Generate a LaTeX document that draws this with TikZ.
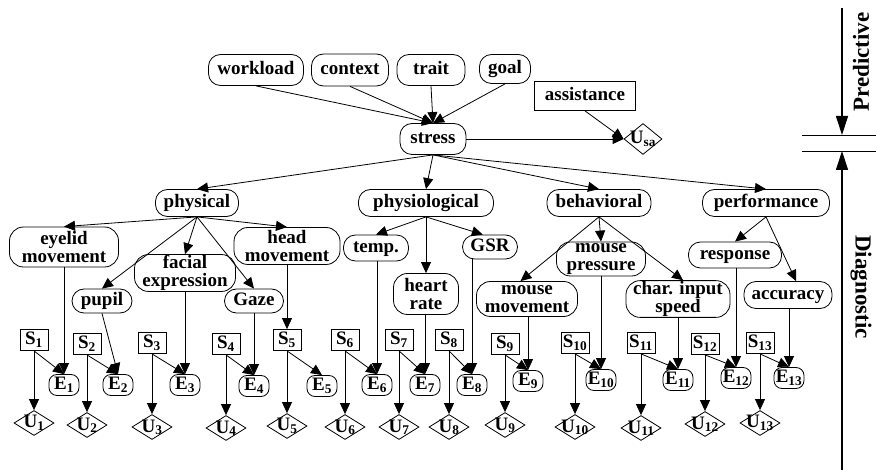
\documentclass[tikz,border=0pt]{standalone}
\usepackage{fontspec}
\setmainfont{Liberation Serif}
\usetikzlibrary{arrows.meta,shapes.geometric}
\newcommand\diagfont{\bfseries\fontsize{19}{17.5}\selectfont}
\newcommand\sidefont{\bfseries\fontsize{23}{26}\selectfont}
\newcommand\subidx[1]{\textsubscript{#1}}
\begin{document}
\begin{tikzpicture}[x=1pt,y=-1pt,line width=0.8pt,font=\diagfont,
  wh/.style 2 args={minimum width=#1pt,minimum height=#2pt},
  rn/.style={draw,rounded corners=12pt,align=center,inner sep=1pt},
  one/.style={text height=12pt,text depth=2pt},
  sbox/.style={draw,rectangle,inner sep=1pt,minimum width=28pt,minimum height=21pt,text height=12pt,text depth=3pt},
  ebox/.style={draw,rounded corners=8pt,inner sep=1pt,minimum width=30pt,minimum height=21pt,text height=12pt,text depth=3pt},
  ud/.style={draw,diamond,inner sep=0pt,minimum width=40pt,minimum height=25pt,text height=10pt,text depth=0pt},
  arr/.style={-{Triangle[length=11pt,width=10pt]}},
  sidearr/.style={line width=1.2pt,-{Triangle[length=19pt,width=12pt]}}]
\useasboundingbox (0,0) rectangle (876,470);

% causes of stress
\node[rn,one,wh={95}{31}] (workload) at (256,70) {workload};
\node[rn,one,wh={77}{32}] (context) at (350,70) {context};
\node[rn,one,wh={68}{31}] (trait) at (431,70) {trait};
\node[rn,one,wh={51}{29}] (goal) at (505,69) {goal};
\node[draw,one,inner sep=1pt,wh={101}{29}] (assist) at (585,96) {assistance};
\node[rn,one,wh={66}{31}] (stress) at (433,139) {stress};
\node[ud,wh={38}{31}] (Usa) at (643,139) {\makebox[0pt]{U\subidx{sa}}};

% evidence categories
\node[rn,one,wh={83}{27}] (physical) at (197,203) {physical};
\node[rn,one,wh={135}{27}] (physio) at (426,203) {physiological};
\node[rn,one,wh={104}{27}] (behav) at (599,203) {behavioral};
\node[rn,one,wh={127}{27}] (perf) at (766,203) {performance};

% observable features
\node[rn,rounded corners=14pt,wh={109}{40}] (eyelid) at (64,247) {eyelid\\movement};
\node[rn,rounded corners=14pt,wh={106}{37}] (head) at (287,246) {head\\movement};
\node[rn,rounded corners=14pt,wh={101}{31}] (facial) at (185,273) {facial\\expression};
\node[rn,one,wh={60}{24}] (pupil) at (102,301) {pupil};
\node[rn,one,wh={59}{24}] (gaze) at (254,301) {Gaze};
\node[rn,one,wh={65}{26}] (temp) at (376,248) {temp.};
\node[rn,rounded corners=14pt,wh={65}{41}] (heart) at (426,294) {heart\\rate};
\node[rn,one,wh={55}{24}] (gsr) at (490,247) {GSR};
\node[rn,rounded corners=14pt,wh={101}{35}] (mmove) at (527,299) {mouse\\movement};
\node[rn,rounded corners=14pt,wh={89}{34}] (mpress) at (601,259) {mouse\\pressure};
\node[rn,rounded corners=14pt,wh={104}{35}] (cspeed) at (678,299) {char. input\\speed};
\node[rn,one,wh={93}{26}] (resp) at (735,255) {response};
\node[rn,one,wh={88}{27}] (acc) at (788,295) {accuracy};

% sensors, evidence and utility nodes
\foreach \i/\sx/\sy/\ex/\ey/\uy in {1/34/340/64/385/423, 2/87/344/118/385/425, 3/152/343/185/385/427,
    4/226/344/254/386/428, 5/287/340/322/386/426, 6/345/340/377/385/427, 7/399/340/425/385/427,
    8/449/340/472/385/427, 9/505/344/528/381/425, 10/575/343/601/380/427, 11/641/343/678/380/428,
    12/705/344/736/378/424, 13/760/343/789/378/423}{
  \node[sbox] (S\i) at (\sx,\sy) {S\subidx{\i}};
  \node[ebox] (E\i) at (\ex,\ey) {E\subidx{\i}};
  \node[ud] (U\i) at (\sx,\uy) {\makebox[0pt]{U\subidx{\i}}};
  \draw[arr] (S\i.south) -- (E\i.north);
  \draw[arr] (S\i.south) -- (U\i.north);
}

% links into stress
\draw[arr] (workload.south) -- (stress.north);
\draw[arr] (context.south) -- (stress.north);
\draw[arr] (trait.south) -- (stress.north);
\draw[arr] (goal.south) -- (stress.north);
\draw[arr] (assist.south) -- (Usa.west);
\draw[arr] (stress.east) -- (Usa.west);

% stress to categories
\draw[arr] (stress.south) -- (physical.north);
\draw[arr] (stress.south) -- (physio.north);
\draw[arr] (stress.south) -- (behav.north);
\draw[arr] (stress.south) -- (perf.north);

% categories to features
\draw[arr] (physical.south) -- (eyelid.north);
\draw[arr] (physical.south) -- (pupil.north);
\draw[arr] (physical.south) -- (facial.north);
\draw[arr] (physical.south) -- (gaze.north);
\draw[arr] (physical.south) -- (head.north);
\draw[arr] (physio.south) -- (temp.north);
\draw[arr] (physio.south) -- (heart.north);
\draw[arr] (physio.south) -- (gsr.120);
\draw[arr] (behav.south) -- (mmove.110);
\draw[arr] (behav.south) -- (mpress.north);
\draw[arr] (behav.south) -- (cspeed.75);
\draw[arr] (perf.south) -- (resp.north);
\draw[arr] (perf.south) -- (acc.60);

% features to evidence
\draw[arr] (E1.north |- eyelid.south) -- (E1.north);
\draw[arr] (pupil.south) -- (E2.north);
\draw[arr] (E3.north |- facial.south) -- (E3.north);
\draw[arr] (E4.north |- gaze.south) -- (E4.north);
\draw[arr] (S5.north |- head.south) -- (S5.north);
\draw[arr] (E6.north |- temp.south) -- (E6.north);
\draw[arr] (E7.north |- heart.south) -- (E7.north);
\draw[arr] (E8.north |- gsr.south) -- (E8.north);
\draw[arr] (E9.north |- mmove.south) -- (E9.north);
\draw[arr] (E10.north |- mpress.south) -- (E10.north);
\draw[arr] (E11.north |- cspeed.south) -- (E11.north);
\draw[arr] (E12.north |- resp.south) -- (E12.north);
\draw[arr] (E13.north |- acc.south) -- (E13.north);

% predictive / diagnostic axis
\coordinate (pa) at (842,8);
\coordinate (pb) at (842,135);
\coordinate (h1l) at (802,135);
\coordinate (h1r) at (876,135);
\coordinate (h2l) at (802,151);
\coordinate (h2r) at (876,151);
\coordinate (da) at (842,470);
\coordinate (db) at (842,151);
\draw[sidearr] (pa) -- (pb);
\draw (h1l) -- (h1r);
\draw (h2l) -- (h2r);
\draw[sidearr] (da) -- (db);
\node[rotate=90,font=\sidefont] (pred) at (861,62) {Predictive};
\node[rotate=-90,font=\sidefont] (diag) at (861,287) {Diagnostic};
\end{tikzpicture}
\end{document}
